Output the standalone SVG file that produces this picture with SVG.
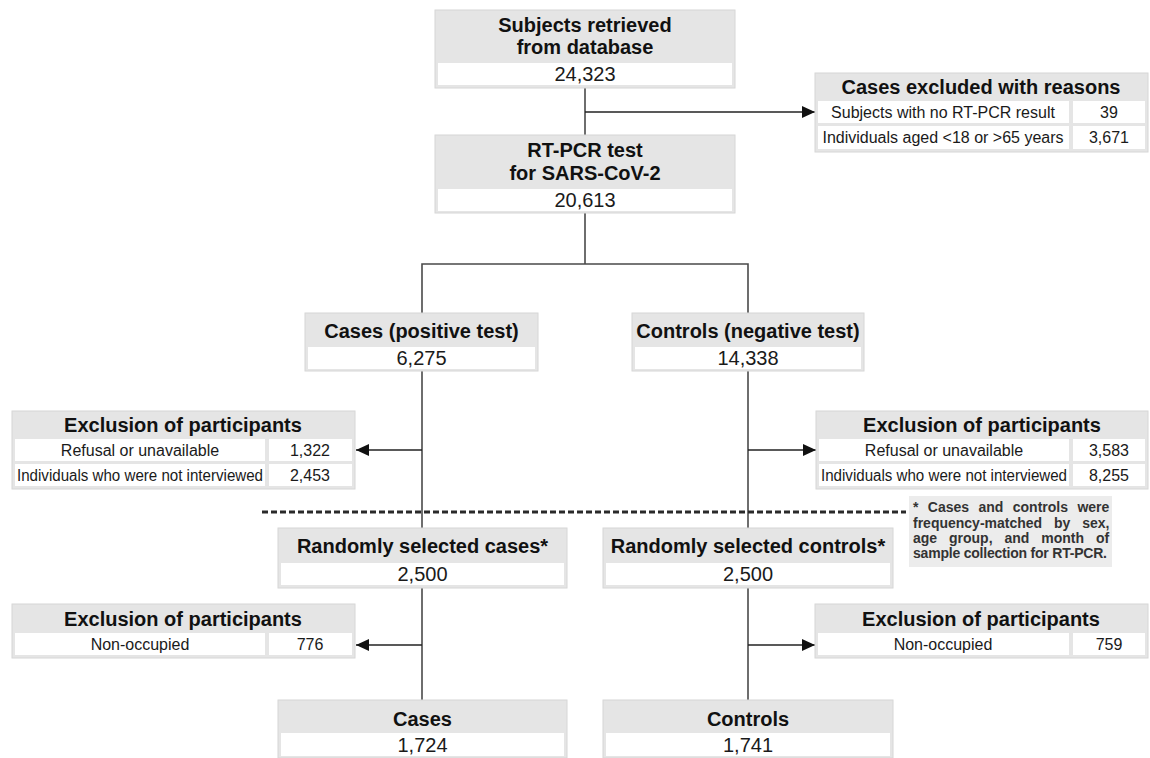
<svg xmlns="http://www.w3.org/2000/svg" width="1150" height="758" viewBox="0 0 1150 758">
<style>
.box{fill:#e5e5e5;stroke:#d6d6d6;stroke-width:1}
.cell{fill:#ffffff}
.h{font-family:"Liberation Sans",Arial,sans-serif;font-weight:bold;font-size:20px;fill:#111;text-anchor:middle}
.n{font-family:"Liberation Sans",Arial,sans-serif;font-size:20px;fill:#1a1a1a;text-anchor:middle}
.c{font-family:"Liberation Sans",Arial,sans-serif;font-size:16px;fill:#1a1a1a;text-anchor:middle}
.ln{fill:none;stroke:#4a4a4a;stroke-width:1.6}
.ar{fill:none;stroke:#222;stroke-width:1.6;marker-end:url(#ah)}
.fn{font-family:"Liberation Sans",Arial,sans-serif;font-weight:bold;font-size:14px;fill:#333}
</style>
<defs>
<marker id="ah" markerUnits="userSpaceOnUse" markerWidth="14" markerHeight="12" refX="13" refY="6" orient="auto">
<path d="M0,0 L13,6 L0,12 Z" fill="#111"/>
</marker>
</defs>
<rect width="1150" height="758" fill="#ffffff"/>

<g id="connectors">
<line class="ln" x1="585" y1="88" x2="585" y2="135"/>
<line class="ar" x1="585" y1="112" x2="815" y2="112"/>
<polyline class="ln" points="585,213 585,264"/>
<polyline class="ln" points="422,313 422,264 748,264 748,313"/>
<line class="ln" x1="422" y1="371" x2="422" y2="528"/>
<line class="ln" x1="748" y1="371" x2="748" y2="528"/>
<line class="ar" x1="422" y1="450" x2="356" y2="450"/>
<line class="ar" x1="748" y1="450" x2="816" y2="450"/>
<line x1="262" y1="512" x2="906" y2="512" stroke="#2a2a2a" stroke-width="3" stroke-dasharray="6 3"/>
<line class="ln" x1="422" y1="588" x2="422" y2="700"/>
<line class="ln" x1="748" y1="588" x2="748" y2="700"/>
<line class="ar" x1="422" y1="645" x2="356" y2="645"/>
<line class="ar" x1="748" y1="645" x2="815" y2="645"/>
</g>

<g id="subjects">
<rect class="box" x="435" y="10" width="300" height="78"/>
<rect class="cell" x="438" y="63" width="294" height="22"/>
<text class="h" x="585" y="32">Subjects retrieved</text>
<text class="h" x="585" y="54">from database</text>
<text class="n" x="585" y="81">24,323</text>
</g>

<g id="excluded-reasons">
<rect class="box" x="815" y="73" width="333" height="79"/>
<rect class="cell" x="818" y="101" width="251" height="22"/>
<rect class="cell" x="1073" y="101" width="72" height="22"/>
<rect class="cell" x="818" y="126" width="251" height="23"/>
<rect class="cell" x="1073" y="126" width="72" height="23"/>
<text class="h" x="981" y="94">Cases excluded with reasons</text>
<text class="c" x="943" y="118">Subjects with no RT-PCR result</text>
<text class="c" x="1109" y="118">39</text>
<text class="c" x="943" y="143">Individuals aged &lt;18 or &gt;65 years</text>
<text class="c" x="1109" y="143">3,671</text>
</g>

<g id="rtpcr">
<rect class="box" x="435" y="135" width="300" height="78"/>
<rect class="cell" x="438" y="189" width="294" height="22"/>
<text class="h" x="585" y="157">RT-PCR test</text>
<text class="h" x="585" y="180">for SARS-CoV-2</text>
<text class="n" x="585" y="207">20,613</text>
</g>

<g id="cases-positive">
<rect class="box" x="305" y="313" width="233" height="58"/>
<rect class="cell" x="308" y="347" width="227" height="22"/>
<text class="h" x="421.5" y="338">Cases (positive test)</text>
<text class="n" x="421.5" y="365">6,275</text>
</g>

<g id="controls-negative">
<rect class="box" x="632" y="313" width="232" height="58"/>
<rect class="cell" x="635" y="347" width="226" height="22"/>
<text class="h" x="748" y="338">Controls (negative test)</text>
<text class="n" x="748" y="365">14,338</text>
</g>

<g id="exclusion-cases-1">
<rect class="box" x="12" y="411" width="343" height="78"/>
<rect class="cell" x="15" y="439" width="250" height="22"/>
<rect class="cell" x="269" y="439" width="83" height="22"/>
<rect class="cell" x="15" y="464" width="250" height="22"/>
<rect class="cell" x="269" y="464" width="83" height="22"/>
<text class="h" x="183" y="432">Exclusion of participants</text>
<text class="c" x="140" y="456">Refusal or unavailable</text>
<text class="c" x="310" y="456">1,322</text>
<text class="c" x="140" y="481" textLength="246" lengthAdjust="spacingAndGlyphs">Individuals who were not interviewed</text>
<text class="c" x="310" y="481">2,453</text>
</g>

<g id="exclusion-controls-1">
<rect class="box" x="816" y="411" width="332" height="78"/>
<rect class="cell" x="819" y="439" width="250" height="22"/>
<rect class="cell" x="1073" y="439" width="72" height="22"/>
<rect class="cell" x="819" y="464" width="250" height="22"/>
<rect class="cell" x="1073" y="464" width="72" height="22"/>
<text class="h" x="982" y="432">Exclusion of participants</text>
<text class="c" x="944" y="456">Refusal or unavailable</text>
<text class="c" x="1109" y="456">3,583</text>
<text class="c" x="944" y="481" textLength="246" lengthAdjust="spacingAndGlyphs">Individuals who were not interviewed</text>
<text class="c" x="1109" y="481">8,255</text>
</g>

<g id="footnote">
<rect x="909" y="496" width="203" height="71" fill="#ececec"/>
<text class="fn" x="913" y="512" word-spacing="5.5">* Cases and controls were</text>
<text class="fn" x="913" y="528" word-spacing="8">frequency-matched by sex,</text>
<text class="fn" x="913" y="543" word-spacing="8">age group, and month of</text>
<text class="fn" x="913" y="558" textLength="194" lengthAdjust="spacing">sample collection for RT-PCR.</text>
</g>

<g id="random-cases">
<rect class="box" x="278" y="528" width="289" height="60"/>
<rect class="cell" x="281" y="563" width="283" height="22"/>
<text class="h" x="422.5" y="553">Randomly selected cases*</text>
<text class="n" x="422.5" y="581">2,500</text>
</g>

<g id="random-controls">
<rect class="box" x="603" y="528" width="290" height="60"/>
<rect class="cell" x="606" y="563" width="284" height="22"/>
<text class="h" x="748" y="553">Randomly selected controls*</text>
<text class="n" x="748" y="581">2,500</text>
</g>

<g id="exclusion-cases-2">
<rect class="box" x="12" y="604" width="343" height="54"/>
<rect class="cell" x="15" y="633" width="250" height="22"/>
<rect class="cell" x="269" y="633" width="83" height="22"/>
<text class="h" x="183" y="626">Exclusion of participants</text>
<text class="c" x="140" y="650">Non-occupied</text>
<text class="c" x="310" y="650">776</text>
</g>

<g id="exclusion-controls-2">
<rect class="box" x="815" y="604" width="333" height="54"/>
<rect class="cell" x="818" y="633" width="251" height="22"/>
<rect class="cell" x="1073" y="633" width="72" height="22"/>
<text class="h" x="981" y="626">Exclusion of participants</text>
<text class="c" x="943" y="650">Non-occupied</text>
<text class="c" x="1109" y="650">759</text>
</g>

<g id="cases-final">
<rect class="box" x="278" y="700" width="289" height="58"/>
<rect class="cell" x="281" y="733" width="283" height="23"/>
<text class="h" x="422.5" y="726">Cases</text>
<text class="n" x="422.5" y="752">1,724</text>
</g>

<g id="controls-final">
<rect class="box" x="603" y="700" width="290" height="58"/>
<rect class="cell" x="606" y="733" width="284" height="23"/>
<text class="h" x="748" y="726">Controls</text>
<text class="n" x="748" y="752">1,741</text>
</g>
</svg>
